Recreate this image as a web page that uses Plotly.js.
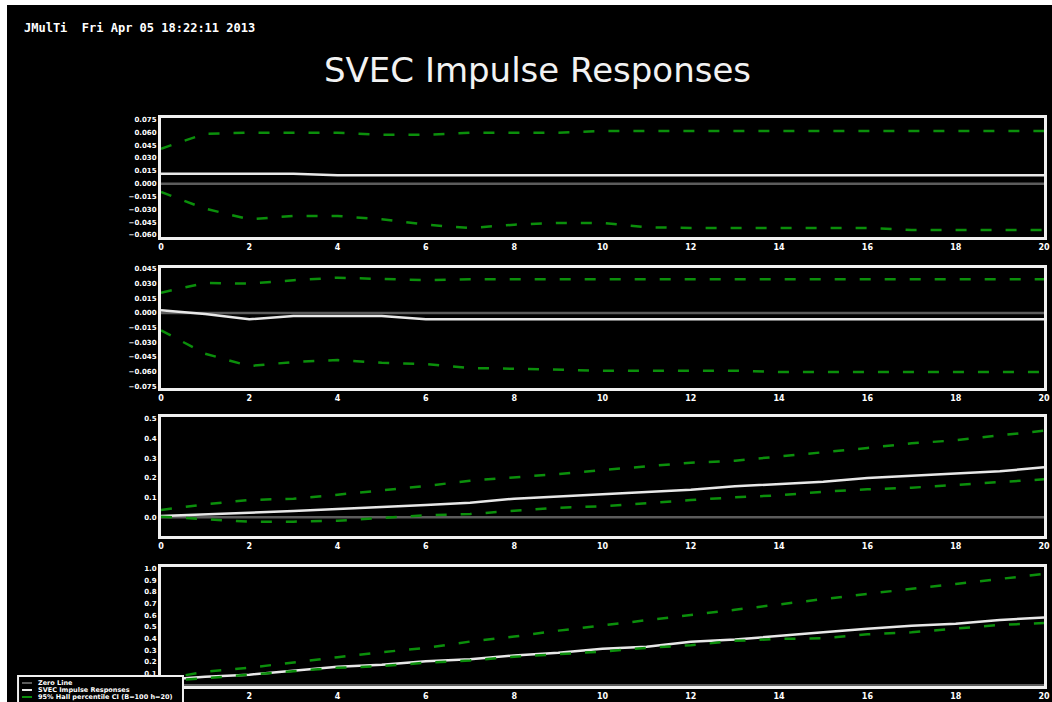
<!DOCTYPE html>
<html><head><meta charset="utf-8">
<script src="https://cdn.plot.ly/plotly-3.0.1.min.js"></script>
<style>
html,body{margin:0;padding:0;background:#fff;width:1052px;height:702px;overflow:hidden}
#chart{position:absolute;left:7px;top:5px;width:1045px;height:697px;background:#000}
</style></head><body><div id="chart"></div>
<script>
const headerText = "JMulTi  Fri Apr 05 18:22:11 2013";
const titleText = "SVEC Impulse Responses";
const legendLabels = ["Zero Line", "SVEC Impulse Responses", "95% Hall percentile CI (B=100 h=20)"];

const steps = [0,1,2,3,4,5,6,7,8,9,10,11,12,13,14,15,16,17,18,19,20];
const xTickVals = [0,2,4,6,8,10,12,14,16,18,20];
const xTickValsLast = [2,4,6,8,10,12,14,16,18,20];
const zeroLine = [0,0,0,0,0,0,0,0,0,0,0,0,0,0,0,0,0,0,0,0,0];

// Panel 1
const resp1  = [0.0117,0.0117,0.0117,0.0117,0.0098,0.0098,0.0098,0.0098,0.0098,0.0098,0.0098,0.0098,0.0098,0.0098,0.0098,0.0098,0.0098,0.0098,0.0098,0.0098,0.0098];
const upper1 = [0.0409,0.0584,0.0596,0.0596,0.0596,0.0572,0.0572,0.0596,0.0596,0.0596,0.0616,0.0616,0.0616,0.0616,0.0616,0.0616,0.0616,0.0616,0.0616,0.0616,0.0616];
const lower1 = [-0.0097,-0.0292,-0.0416,-0.0377,-0.0377,-0.0416,-0.0479,-0.0518,-0.0479,-0.0459,-0.0459,-0.0509,-0.0518,-0.0518,-0.0518,-0.0518,-0.0518,-0.0541,-0.0541,-0.0541,-0.0541];
const yTicks1 = [-0.060,-0.045,-0.030,-0.015,0,0.015,0.030,0.045,0.060,0.075];

// Panel 2
const resp2  = [0.0028,-0.0010,-0.0064,-0.0031,-0.0031,-0.0031,-0.0064,-0.0064,-0.0064,-0.0064,-0.0064,-0.0064,-0.0064,-0.0064,-0.0064,-0.0064,-0.0064,-0.0064,-0.0064,-0.0064,-0.0064];
const upper2 = [0.0208,0.0307,0.0300,0.0335,0.0361,0.0345,0.0335,0.0345,0.0345,0.0345,0.0345,0.0345,0.0345,0.0345,0.0345,0.0345,0.0345,0.0345,0.0345,0.0345,0.0345];
const lower2 = [-0.0177,-0.0416,-0.0542,-0.0501,-0.0481,-0.0509,-0.0522,-0.0563,-0.0570,-0.0583,-0.0590,-0.0590,-0.0590,-0.0590,-0.0604,-0.0604,-0.0604,-0.0604,-0.0604,-0.0604,-0.0604];
const yTicks2 = [-0.075,-0.060,-0.045,-0.030,-0.015,0,0.015,0.030,0.045];

// Panel 3
const resp3  = [0.0066,0.0168,0.0234,0.0320,0.0437,0.0523,0.0624,0.0741,0.0944,0.1066,0.1183,0.1284,0.1401,0.1574,0.1690,0.1807,0.1995,0.2097,0.2233,0.2335,0.2538];
const upper3 = [0.0371,0.0660,0.0878,0.0944,0.1147,0.1371,0.1589,0.1858,0.2010,0.2198,0.2401,0.2604,0.2772,0.2873,0.3076,0.3299,0.3518,0.3756,0.3909,0.4162,0.4396];
const lower3 = [0.0030,-0.0102,-0.0223,-0.0223,-0.0173,-0.0036,0.0102,0.0168,0.0320,0.0487,0.0558,0.0726,0.0878,0.1015,0.1117,0.1299,0.1421,0.1502,0.1640,0.1807,0.1929];
const yTicks3 = [-0.1,0,0.1,0.2,0.3,0.4,0.5];

// Panel 4
const resp4  = [0.0450,0.0740,0.0911,0.1251,0.1591,0.1762,0.2068,0.2238,0.2553,0.2783,0.3123,0.3293,0.3719,0.3915,0.4196,0.4536,0.4852,0.5106,0.5276,0.5591,0.5812];
const upper4 = [0.0500,0.1166,0.1506,0.1983,0.2408,0.2834,0.3208,0.3744,0.4170,0.4681,0.5106,0.5557,0.6017,0.6468,0.6953,0.7378,0.7829,0.8229,0.8680,0.9106,0.9531];
const lower4 = [0.0366,0.0596,0.0911,0.1191,0.1506,0.1642,0.1932,0.2128,0.2442,0.2664,0.2893,0.3208,0.3430,0.3804,0.3974,0.4025,0.4366,0.4536,0.4825,0.5166,0.5336];
const yTicks4 = [0.1,0.2,0.3,0.4,0.5,0.6,0.7,0.8,0.9,1.0];

const panels = [
  {resp: resp1, upper: upper1, lower: lower1, ticks: yTicks1, xt: xTickVals, range: [-0.0623, 0.0768], domain: [0.7905, 1.0], fmt: ".3f"},
  {resp: resp2, upper: upper2, lower: lower2, ticks: yTicks2, xt: xTickVals, range: [-0.0767, 0.0460], domain: [0.5246, 0.7359], fmt: ".3f"},
  {resp: resp3, upper: upper3, lower: lower3, ticks: yTicks3, xt: xTickVals, range: [-0.0949, 0.5107], domain: [0.2641, 0.4741], fmt: ".1f"},
  {resp: resp4, upper: upper4, lower: lower4, ticks: yTicks4, xt: xTickValsLast, range: [-0.006, 1.0152], domain: [0.0, 0.2100], fmt: ".1f"}
];

const GREY = "#5c5c5c", WHITE = "#e8e8e8", GREEN = "#0b8f0b";
const traces = [];
const layout = {
  width: 1045, height: 697,
  paper_bgcolor: "#000", plot_bgcolor: "#000",
  margin: {l: 154, r: 8, t: 113, b: 16},
  showlegend: false,
  title: {text: titleText, x: 0.5077, xref: "container", y: 0.9067, yref: "container",
          xanchor: "center", yanchor: "middle",
          font: {family: "DejaVu Sans", size: 34, color: "#f2f2f2"}},
  annotations: [], shapes: []
};

panels.forEach((p, i) => {
  const n = i === 0 ? "" : String(i + 1);
  const xa = "x" + n, ya = "y" + n;
  traces.push({x: steps, y: zeroLine, xaxis: xa, yaxis: ya, mode: "lines", name: legendLabels[0],
               line: {color: GREY, width: 2.5}, hoverinfo: "skip"});
  traces.push({x: steps, y: p.resp, xaxis: xa, yaxis: ya, mode: "lines", name: legendLabels[1],
               line: {color: WHITE, width: 2.5}});
  traces.push({x: steps, y: p.upper, xaxis: xa, yaxis: ya, mode: "lines", name: legendLabels[2],
               line: {color: GREEN, width: 2.5, dash: "11px,14px"}});
  traces.push({x: steps, y: p.lower, xaxis: xa, yaxis: ya, mode: "lines", name: legendLabels[2],
               line: {color: GREEN, width: 2.5, dash: "11px,14px"}});
  layout["xaxis" + n] = {
    domain: [0, 1], anchor: ya, range: [0, 20], autorange: false,
    tickmode: "array", tickvals: p.xt, ticks: "", ticklabeloverflow: "allow",
    showline: true, linecolor: "#f0f0f0", linewidth: 3, mirror: true,
    showgrid: false, zeroline: false,
    tickfont: {family: "DejaVu Sans", size: 8, color: "#fff", weight: "bold"}
  };
  layout["yaxis" + n] = {
    domain: p.domain, anchor: xa, range: p.range, autorange: false,
    tickmode: "array", tickvals: p.ticks, tickformat: p.fmt, ticks: "",
    showline: true, linecolor: "#f0f0f0", linewidth: 3, mirror: true,
    showgrid: false, zeroline: false,
    tickfont: {family: "DejaVu Sans", size: 7, color: "#fff", weight: "bold"}
  };
});

// header text
layout.annotations.push({text: headerText, xref: "paper", yref: "paper", x: -0.1574, y: 1.1585,
  xanchor: "left", yanchor: "middle", showarrow: false,
  font: {family: "DejaVu Sans Mono", size: 12, color: "#fff", weight: "bold"}});

// manual legend box
layout.shapes.push({type: "rect", xref: "paper", yref: "paper", x0: -0.1619, x1: 0.0249, y0: -0.04, y1: 0.0176,
  fillcolor: "#000", line: {color: "#f0f0f0", width: 2}, layer: "above"});
const legRows = [0.0053, -0.0070, -0.0194];
const legStyles = [{color: GREY, width: 2}, {color: WHITE, width: 2}, {color: GREEN, width: 2}];
legRows.forEach((yy, k) => {
  layout.shapes.push({type: "line", xref: "paper", yref: "paper", x0: -0.1574, x1: -0.1461, y0: yy, y1: yy,
    line: legStyles[k], layer: "above"});
  layout.annotations.push({text: legendLabels[k], xref: "paper", yref: "paper", x: -0.1416, y: yy,
    xanchor: "left", yanchor: "middle", showarrow: false,
    font: {family: "DejaVu Sans", size: 6.5, color: "#fff", weight: "bold"}});
});

Plotly.newPlot("chart", traces, layout, {staticPlot: true, displayModeBar: false});
</script></body></html>
